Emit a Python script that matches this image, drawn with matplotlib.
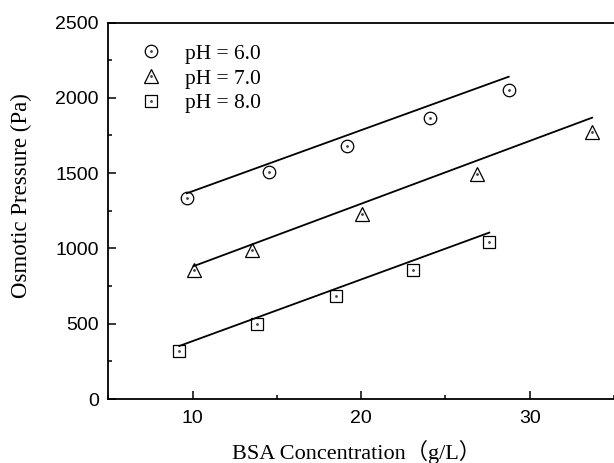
import matplotlib
matplotlib.use("Agg")
import matplotlib.pyplot as plt
from matplotlib.legend_handler import HandlerTuple
from matplotlib.ticker import MultipleLocator

# measured points
x_ph6 = [9.65, 14.5, 19.15, 24.1, 28.75]
y_ph6 = [1333, 1507, 1682, 1866, 2054]
x_ph7 = [10.05, 13.5, 20.05, 26.85, 33.7]
y_ph7 = [855, 990, 1228, 1497, 1775]
x_ph8 = [9.2, 13.8, 18.5, 23.05, 27.6]
y_ph8 = [322, 496, 681, 855, 1042]

# fitted lines (end points)
fit_x6 = [9.65, 28.75]
fit_y6 = [1366, 2140]
fit_x7 = [10.05, 33.7]
fit_y7 = [882, 1868]
fit_x8 = [9.2, 27.6]
fit_y8 = [352, 1105]

labels = ['pH = 6.0', 'pH = 7.0', 'pH = 8.0']

serif = ['Liberation Serif', 'Noto Sans CJK SC']
plt.rcParams['font.family'] = ['Liberation Sans', 'DejaVu Sans']

fig = plt.figure(figsize=(6.14, 4.63), dpi=100)
ax = fig.add_axes([0.1767, 0.1382, 0.8233, 0.8132])

series = [(x_ph6, y_ph6, 'o', 9), (x_ph7, y_ph7, '^', 10.5), (x_ph8, y_ph8, 's', 8)]
handles = []
for xs, ys, m, ms in series:
    h1, = ax.plot(xs, ys, m, ms=ms, mfc='white', mec='black', mew=0.9, ls='none')
    h2, = ax.plot(xs, ys, 'o', ms=1.0, color='#444444', ls='none')
    handles.append((h1, h2))

for fx, fy in [(fit_x6, fit_y6), (fit_x7, fit_y7), (fit_x8, fit_y8)]:
    ax.plot(fx, fy, color='black', lw=1.3)

ax.set_xlim(5, 35)
ax.set_ylim(0, 2500)
ax.xaxis.set_major_locator(MultipleLocator(10))
ax.xaxis.set_minor_locator(MultipleLocator(5))
ax.yaxis.set_major_locator(MultipleLocator(500))
ax.yaxis.set_minor_locator(MultipleLocator(250))
ax.tick_params(which='both', direction='in', top=False, right=False, width=1.1)
ax.tick_params(which='major', length=5.5, labelsize=14)
ax.tick_params(axis='x', which='major', pad=8)
ax.tick_params(axis='y', which='major', pad=7)
ax.tick_params(which='minor', length=3)
for s in ['left', 'bottom', 'top']:
    ax.spines[s].set_linewidth(1.3)
ax.spines['right'].set_visible(False)

ax.set_xlabel('BSA Concentration（g/L）', family=serif, fontsize=16)
ax.set_ylabel('Osmotic Pressure (Pa)', family=serif, fontsize=16.5)
ax.xaxis.set_label_coords(0.49, -0.108)
ax.yaxis.set_label_coords(-0.152, 0.54)

ax.legend(handles, labels, handler_map={tuple: HandlerTuple(ndivide=1)},
          loc='upper left', bbox_to_anchor=(0.02, 0.995), frameon=False,
          prop={'family': serif, 'size': 15.5}, handlelength=1.2,
          handletextpad=1.0, labelspacing=0.22)

fig.savefig('out.png', dpi=100)
